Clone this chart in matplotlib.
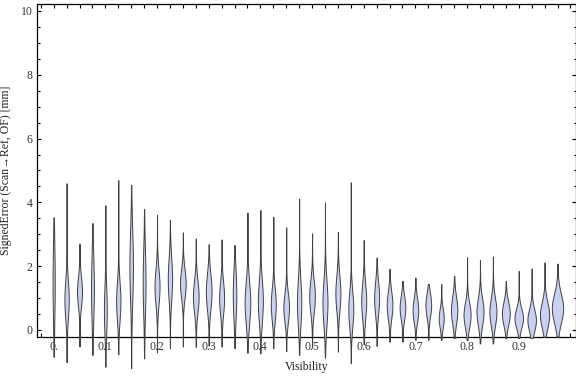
import numpy as np
import matplotlib
matplotlib.use("Agg")
import matplotlib.pyplot as plt

# one violin per visibility bin
visibility = [0.0, 0.025, 0.05, 0.075, 0.1, 0.125, 0.15, 0.175, 0.2, 0.225,
              0.25, 0.275, 0.3, 0.325, 0.35, 0.375, 0.4, 0.425, 0.45, 0.475,
              0.5, 0.525, 0.55, 0.575, 0.6, 0.625, 0.65, 0.675, 0.7, 0.725,
              0.75, 0.775, 0.8, 0.825, 0.85, 0.875, 0.9, 0.925, 0.95, 0.975]

err_min = [-0.84, -1.01, -0.52, -0.78, -1.15, -0.76, -1.20, -0.89, -0.70, -0.57,
           -0.52, -0.53, -0.49, -0.52, -0.57, -0.71, -0.73, -0.57, -0.66, -0.78,
           -0.55, -0.87, -0.68, -1.04, -0.45, -0.50, -0.37, -0.37, -0.31, -0.31,
           -0.31, -0.26, -0.31, -0.42, -0.42, -0.26, -0.25, -0.25, -0.21, -0.21]

err_max = [3.53, 4.60, 2.71, 3.35, 3.91, 4.70, 4.55, 3.79, 3.61, 3.45,
           3.06, 2.87, 2.69, 2.84, 2.66, 3.68, 3.76, 3.55, 3.22, 4.12,
           3.03, 4.00, 3.08, 4.63, 2.82, 2.27, 1.92, 1.54, 1.64, 1.44,
           1.44, 1.70, 2.28, 2.19, 2.30, 1.54, 1.85, 1.93, 2.12, 2.08]

# where the bulk of each distribution sits, and how wide it is
err_mode = [1.50, 0.95, 1.20, 1.30, 0.60, 0.90, 2.00, 1.50, 1.35, 1.60,
            1.45, 1.05, 1.20, 1.00, 1.10, 0.85, 0.90, 0.80, 0.70, 0.85,
            1.05, 0.85, 1.15, 0.65, 0.90, 1.00, 0.78, 0.70, 0.62, 0.78,
            0.37, 0.62, 0.47, 0.57, 0.57, 0.52, 0.37, 0.31, 0.47, 0.68]

err_spread = [1.20, 0.60, 0.45, 1.00, 0.75, 0.60, 1.10, 1.00, 0.55, 0.65,
              0.45, 0.50, 0.55, 0.50, 0.75, 0.65, 0.65, 0.50, 0.45, 0.70,
              0.50, 0.70, 0.55, 0.55, 0.55, 0.50, 0.42, 0.36, 0.36, 0.36,
              0.30, 0.42, 0.38, 0.42, 0.42, 0.36, 0.30, 0.34, 0.40, 0.45]

# relative peak density of each violin
peak_density = [0.19, 0.38, 0.44, 0.25, 0.25, 0.38, 0.31, 0.25, 0.44, 0.38,
                0.50, 0.50, 0.50, 0.44, 0.31, 0.50, 0.44, 0.44, 0.50, 0.38,
                0.50, 0.44, 0.44, 0.44, 0.44, 0.44, 0.50, 0.50, 0.50, 0.50,
                0.44, 0.56, 0.62, 0.62, 0.62, 0.69, 0.75, 0.75, 0.81, 1.00]

xtick_pos = [0.0, 0.1, 0.2, 0.3, 0.4, 0.5, 0.6, 0.7, 0.8, 0.9]
xtick_labels = ['0.', '0.1', '0.2', '0.3', '0.4', '0.5', '0.6', '0.7', '0.8', '0.9']


def violin_stats(lo, hi, mode, spread):
    y = np.linspace(lo, hi, 300)
    dens = np.exp(-0.5 * ((y - mode) / spread) ** 2) + 0.02
    return {"coords": y, "vals": dens, "mean": mode, "median": mode,
            "min": lo, "max": hi}


plt.rcParams['font.family'] = ['Liberation Serif', 'DejaVu Serif']

fig = plt.figure(figsize=(5.76, 3.77), dpi=100)
ax = fig.add_axes([0.0642, 0.1053, 0.935, 0.8833])

stats = [violin_stats(lo, hi, m, s)
         for lo, hi, m, s in zip(err_min, err_max, err_mode, err_spread)]
widths = [0.022 * p for p in peak_density]
parts = ax.violin(stats, positions=visibility, widths=widths,
                  showmeans=False, showextrema=False, showmedians=False)
for body in parts['bodies']:
    body.set_facecolor('#c9d1f3')
    body.set_edgecolor('#404040')
    body.set_linewidth(0.7)
    body.set_alpha(1)
    body.set_clip_on(False)
    body.set_zorder(3)

ax.set_xlim(-0.0323, 1.0099)
ax.set_ylim(-0.229, 10.21)

ax.set_xticks(xtick_pos)
ax.set_xticklabels(xtick_labels)
ax.set_xticks([-0.025] + visibility + [1.0], minor=True)
ax.set_yticks([0, 2, 4, 6, 8, 10])
ax.set_yticks(np.arange(0, 10.01, 0.5), minor=True)

ax.tick_params(axis='both', which='both', direction='in', top=True, right=True,
               colors='black', labelcolor='#333333', labelsize=8.5, width=0.8)
ax.tick_params(axis='x', which='both', length=3, pad=2.5)
ax.tick_params(axis='y', which='major', length=3, pad=3)
ax.tick_params(axis='y', which='minor', length=1.8)

for sp in ax.spines.values():
    sp.set_linewidth(0.9)

ax.set_xlabel('Visibility', fontsize=8.5, color='#222222')
ax.set_ylabel('SignedError (Scan\u2192Ref, OF) [mm]', fontsize=8.5, color='#222222')
ax.xaxis.set_label_coords(0.5, -0.072)
ax.yaxis.set_label_coords(-0.047, 0.5)

fig.savefig('out.png', dpi=100)
plt.close(fig)
